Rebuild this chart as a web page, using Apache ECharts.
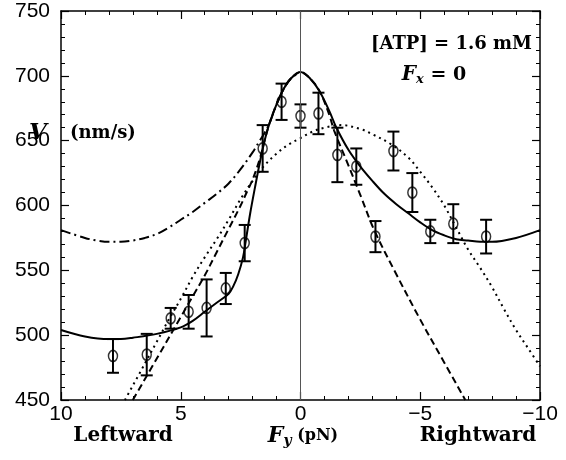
<!DOCTYPE html>
<html>
<head>
<meta charset="utf-8">
<script src="https://cdn.jsdelivr.net/npm/echarts@6/dist/echarts.min.js"></script>
<style>
html, body { margin: 0; padding: 0; background: #fff; }
#chart { width: 566px; height: 460px; }
</style>
</head>
<body>
<div id="chart"></div>
<script>
// measured velocities with error bars (Fy in pN, V in nm/s)
const pointF = [7.83, 6.42, 5.42, 4.67, 3.92, 3.12, 2.33, 1.58, 0.79, 0, -0.75, -1.54, -2.33, -3.13, -3.88, -4.67, -5.42, -6.38, -7.75];
const pointV = [484, 485, 513, 518, 521, 536, 571, 644, 680, 669, 671, 639, 630, 576, 642, 610, 580, 586, 576];
const pointErr = [13, 16, 8, 13, 22, 12, 14, 18, 14, 9, 16, 21, 14, 12, 15, 15, 9, 15, 13];

// model curves
const solidF = [10, 9, 8, 7.5, 7, 6, 5, 4.5, 4, 3.5, 3, 2.8, 2.6, 2.4, 2.3, 2.1, 1.9, 1.7, 1.5, 1.3, 1, 0.7, 0.4, 0, -0.4, -0.8, -1.2, -1.5, -2, -2.5, -3, -3.5, -4, -4.5, -5, -5.5, -6, -6.5, -7, -7.5, -8, -9, -10];
const solidV = [504, 499, 497, 497, 498, 501, 506, 511, 518, 525, 532, 538, 547, 560, 571, 594, 614, 633, 650, 663, 678, 690, 698, 703, 698, 688, 673, 660, 643, 630, 619, 609, 601, 594, 587, 581, 577, 574, 573, 572, 572, 575, 581];

const dashF = [7, 6, 5, 4.5, 4, 3.5, 3, 2.5, 2.25, 2, 1.7, 1.5, 1.3, 1, 0.7, 0.4, 0, -0.4, -0.8, -1.2, -1.4, -2, -2.5, -3.08, -4, -5, -6, -6.88];
const dashV = [450, 482, 514, 530, 546, 564, 582, 600, 610, 620, 636, 650, 663, 678, 690, 698, 703, 698, 688, 670, 658, 631, 608, 581, 547, 512, 479, 450];

const dotF = [7.33, 6.5, 6, 5.5, 5, 4.5, 4, 3.5, 3, 2.5, 2, 1.5, 1, 0.5, 0, -0.5, -1, -1.7, -2.5, -3, -3.8, -4.5, -5, -5.5, -6, -6.5, -7, -7.5, -8, -8.5, -9, -9.5, -10];
const dotV = [450, 478, 495, 512, 528, 545, 560, 574, 589, 605, 619, 631, 640, 647, 652, 657, 660, 662, 659, 655, 647, 637, 626, 614, 600, 583, 566, 552, 537, 520, 504, 490, 476];

const dashDotF = [10, 9, 8.5, 8, 7.5, 7, 6.5, 6, 5.5, 5, 4.5, 4, 3.5, 3, 2.5, 2, 1.7, 1.5, 1.3, 1, 0.7, 0.4, 0];
const dashDotV = [581, 575, 573, 572, 572, 573, 575, 578, 583, 589, 595, 602, 609, 617, 628, 641, 650, 656, 663, 678, 690, 698, 703];

const xTicks = [10, 5, 0, -5, -10];

const zip = (a, b) => a.map((v, i) => [v, b[i]]);
const serif = '"DejaVu Serif", "Liberation Serif", serif';

const chart = echarts.init(document.getElementById('chart'));

const axisCommon = {
  axisLine: { onZero: false, lineStyle: { color: '#000', width: 1.5 } },
  axisTick: { inside: true, length: 8, lineStyle: { color: '#000', width: 1.2 } },
  minorTick: { show: true, splitNumber: 5, length: 4, lineStyle: { color: '#000', width: 1 } },
  splitLine: { show: false }
};

const curve = (data, type) => ({
  type: 'line',
  data: data,
  showSymbol: false,
  smooth: 0.35,
  silent: true,
  z: 2,
  lineStyle: { color: '#000', width: 2, type: type }
});

chart.setOption({
  animation: false,
  backgroundColor: '#fff',
  grid: { left: 61, right: 26, top: 11, bottom: 60 },
  xAxis: [
    Object.assign({
      type: 'value', min: -10, max: 10, interval: 5, inverse: true,
      axisLabel: {
        color: '#000', fontSize: 21, fontFamily: '"Liberation Sans", Arial, sans-serif', margin: 4,
        formatter: v => xTicks.includes(v) ? String(v).replace('-', '\u2212') : ''
      }
    }, axisCommon),
    Object.assign({
      type: 'value', min: -10, max: 10, interval: 5, inverse: true, position: 'top',
      axisLabel: { show: false }
    }, axisCommon)
  ],
  yAxis: [
    Object.assign({
      type: 'value', min: 450, max: 750, interval: 50,
      axisLabel: { color: '#000', fontSize: 21, fontFamily: '"Liberation Sans", Arial, sans-serif', margin: 11 }
    }, axisCommon),
    Object.assign({
      type: 'value', min: 450, max: 750, interval: 50, position: 'right',
      axisLabel: { show: false }
    }, axisCommon)
  ],
  series: [
    Object.assign(curve(zip(dashDotF, dashDotV), [10, 4, 2, 4]), {
      markLine: {
        silent: true, symbol: 'none', label: { show: false },
        lineStyle: { color: '#555', width: 1, type: 'solid' },
        data: [{ xAxis: 0 }]
      }
    }),
    curve(zip(dotF, dotV), [2, 4]),
    curve(zip(dashF, dashV), [7, 4]),
    curve(zip(solidF, solidV), 'solid'),
    {
      type: 'custom',
      silent: true,
      z: 3,
      data: pointF.map((f, i) => [f, pointV[i] - pointErr[i], pointV[i] + pointErr[i]]),
      renderItem: (params, api) => {
        const lo = api.coord([api.value(0), api.value(1)]);
        const hi = api.coord([api.value(0), api.value(2)]);
        const w = 6;
        const style = { stroke: '#000', lineWidth: 2 };
        return {
          type: 'group',
          children: [
            { type: 'line', shape: { x1: hi[0], y1: hi[1], x2: lo[0], y2: lo[1] }, style: style },
            { type: 'line', shape: { x1: hi[0] - w, y1: hi[1], x2: hi[0] + w, y2: hi[1] }, style: style },
            { type: 'line', shape: { x1: lo[0] - w, y1: lo[1], x2: lo[0] + w, y2: lo[1] }, style: style }
          ]
        };
      }
    },
    {
      type: 'scatter',
      data: zip(pointF, pointV),
      symbol: 'circle',
      symbolSize: [9, 11],
      silent: true,
      z: 4,
      itemStyle: { color: 'rgba(0,0,0,0)', borderColor: '#000', borderWidth: 1.6 }
    }
  ],
  graphic: [
    {
      type: 'text', right: 34, top: 35,
      style: { text: '[ATP] = 1.6 mM', fill: '#000', font: 'bold 18px ' + serif }
    },
    {
      type: 'text', x: 434, y: 75,
      style: {
        text: '{f|F}{s|x}{e| = 0}', align: 'center', verticalAlign: 'middle', fill: '#000',
        rich: {
          f: { fontSize: 20, fontFamily: serif, fontWeight: 'bold', fontStyle: 'italic' },
          s: { fontSize: 13, fontFamily: serif, fontWeight: 'bold', fontStyle: 'italic', padding: [9, 0, 0, 0] },
          e: { fontSize: 19, fontFamily: serif, fontWeight: 'bold' }
        }
      }
    },
    {
      type: 'text', x: 38, y: 133,
      style: { text: 'V', align: 'center', verticalAlign: 'middle', fill: '#000', font: 'italic bold 23px ' + serif }
    },
    {
      type: 'text', x: 70, y: 133,
      style: { text: '(nm/s)', align: 'left', verticalAlign: 'middle', fill: '#000', font: 'bold 18px ' + serif }
    },
    {
      type: 'text', x: 123, y: 436,
      style: { text: 'Leftward', align: 'center', verticalAlign: 'middle', fill: '#000', font: 'bold 20px ' + serif }
    },
    {
      type: 'text', x: 303, y: 436,
      style: {
        text: '{f|F}{s|y}{e| (pN)}', align: 'center', verticalAlign: 'middle', fill: '#000',
        rich: {
          f: { fontSize: 22, fontFamily: serif, fontWeight: 'bold', fontStyle: 'italic' },
          s: { fontSize: 14, fontFamily: serif, fontWeight: 'bold', fontStyle: 'italic', padding: [10, 0, 0, 0] },
          e: { fontSize: 16, fontFamily: serif, fontWeight: 'bold' }
        }
      }
    },
    {
      type: 'text', x: 478, y: 436,
      style: { text: 'Rightward', align: 'center', verticalAlign: 'middle', fill: '#000', font: 'bold 20px ' + serif }
    }
  ]
});

window.addEventListener('resize', () => chart.resize());
</script>
</body>
</html>
